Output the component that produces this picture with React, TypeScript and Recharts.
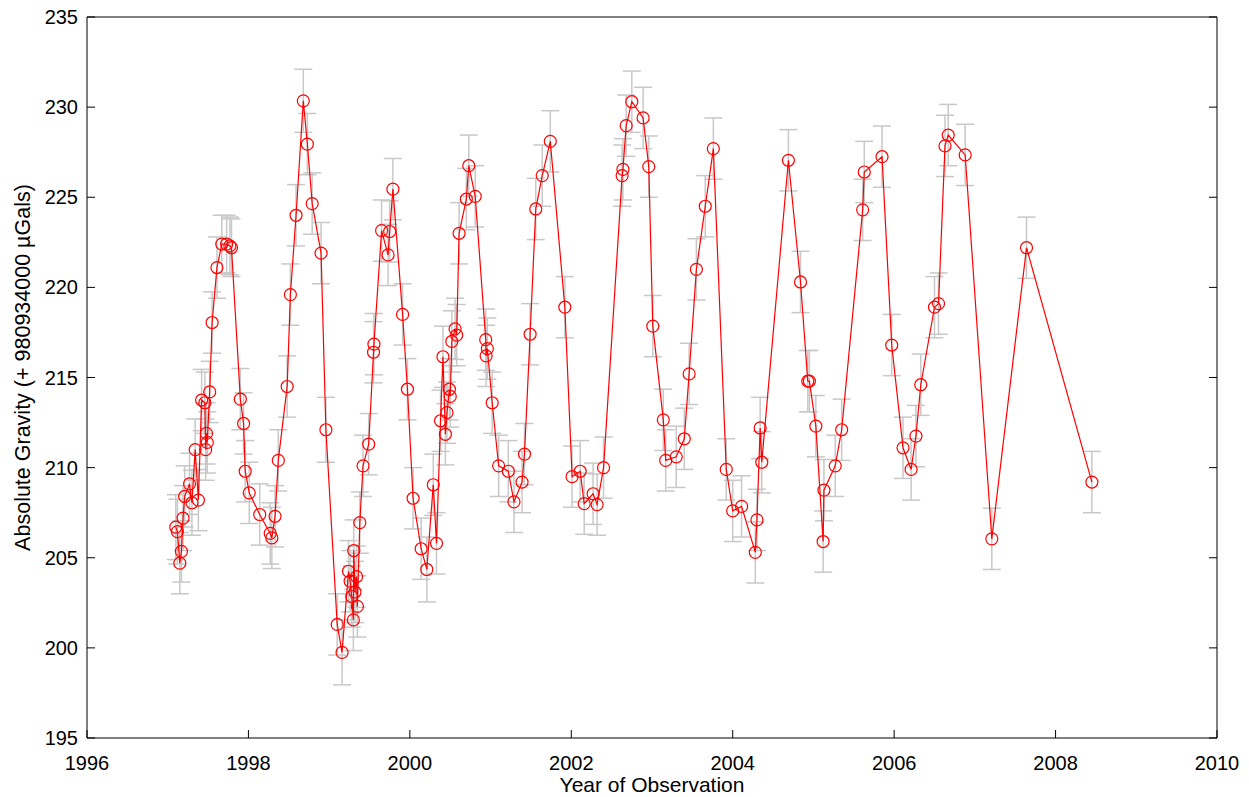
import { ErrorBar, Line, LineChart, XAxis, YAxis } from 'recharts'

// observation epochs (decimal year)
const YEARS = [
  1997.10, 1997.12, 1997.15, 1997.17, 1997.19, 1997.21, 1997.27, 1997.30, 1997.34, 1997.38,
  1997.42, 1997.46, 1997.47, 1997.48, 1997.49, 1997.52, 1997.55, 1997.61, 1997.67, 1997.73,
  1997.77, 1997.79, 1997.90, 1997.94, 1997.96,
  1998.01, 1998.14, 1998.27, 1998.29, 1998.33, 1998.37, 1998.48, 1998.52, 1998.59, 1998.68,
  1998.73, 1998.79, 1998.90, 1998.96,
  1999.10, 1999.16, 1999.24, 1999.26, 1999.28, 1999.30, 1999.305, 1999.32, 1999.34, 1999.35,
  1999.38, 1999.42, 1999.49, 1999.55, 1999.555, 1999.65, 1999.73, 1999.75, 1999.79, 1999.91,
  1999.97,
  2000.04, 2000.14, 2000.21, 2000.29, 2000.33, 2000.38, 2000.41, 2000.44, 2000.46, 2000.49,
  2000.50, 2000.52, 2000.56, 2000.58, 2000.61, 2000.70, 2000.73, 2000.81, 2000.94, 2000.945,
  2000.96,
  2001.02, 2001.10, 2001.22, 2001.29, 2001.39, 2001.42, 2001.49, 2001.56, 2001.64, 2001.74,
  2001.92,
  2002.01, 2002.11, 2002.16, 2002.27, 2002.32, 2002.40, 2002.63, 2002.64, 2002.68, 2002.75,
  2002.89, 2002.96,
  2003.01, 2003.14, 2003.17, 2003.30, 2003.40, 2003.46, 2003.55, 2003.66, 2003.76, 2003.92,
  2004.00, 2004.11, 2004.28, 2004.30, 2004.34, 2004.36, 2004.69, 2004.84, 2004.93, 2004.95,
  2005.03, 2005.12, 2005.13, 2005.27, 2005.35, 2005.61, 2005.63, 2005.85, 2005.97,
  2006.11, 2006.21, 2006.27, 2006.33, 2006.50, 2006.55, 2006.63, 2006.67, 2006.88,
  2007.21, 2007.64, 2008.45,
]

// gravity, µGal above 980934000
const GRAVITY = [
  206.7, 206.45, 204.7, 205.35, 207.2, 208.4, 209.1, 208.05, 211.0, 208.2,
  213.75, 213.6, 211.0, 211.9, 211.4, 214.2, 218.05, 221.1, 222.4, 222.4,
  222.3, 222.2, 213.8, 212.45, 209.8,
  208.6, 207.4, 206.35, 206.1, 207.3, 210.4, 214.5, 219.6, 224.0, 230.35,
  227.95, 224.65, 221.9, 212.1,
  201.3, 199.75, 204.25, 203.7, 202.85, 201.55, 205.4, 203.1, 203.95, 202.3,
  206.95, 210.1, 211.3, 216.4, 216.85, 223.15, 221.8, 223.1, 225.45, 218.5,
  214.35,
  208.3, 205.5, 204.35, 209.05, 205.8, 212.6, 216.15, 211.85, 213.05, 214.35,
  213.95, 217.0, 217.7, 217.35, 223.0, 224.9, 226.75, 225.05, 217.1, 216.2,
  216.6,
  213.6, 210.1, 209.8, 208.1, 209.2, 210.75, 217.4, 224.35, 226.2, 228.1,
  218.9,
  209.5, 209.8, 208.0, 208.55, 207.95, 210.0, 226.2, 226.55, 228.97, 230.3,
  229.4, 226.7,
  217.85, 212.65, 210.4, 210.6, 211.6, 215.2, 221.0, 224.5, 227.7, 209.9,
  207.6, 207.85, 205.3, 207.1, 212.2, 210.3, 227.05, 220.3, 214.8, 214.8,
  212.3, 205.9, 208.75, 210.1, 212.1, 224.3, 226.4, 227.25, 216.8,
  211.1, 209.9, 211.75, 214.6, 218.9, 219.1, 227.85, 228.45, 227.35,
  206.05, 222.2, 209.2,
]

// 1-sigma uncertainty, µGal
const ERROR = [
  1.8, 1.8, 1.7, 1.7, 1.8, 1.7, 1.7, 1.8, 1.7, 1.7,
  1.7, 1.7, 1.7, 1.7, 1.7, 1.7, 1.7, 1.7, 1.6, 1.6,
  1.6, 1.6, 1.7, 1.7, 1.7,
  1.7, 1.7, 1.7, 1.7, 1.7, 1.7, 1.7, 1.7, 1.7, 1.75,
  1.7, 1.7, 1.7, 1.8,
  1.7, 1.8, 1.7, 1.7, 1.7, 1.7, 1.7, 1.7, 1.7, 1.7,
  1.7, 1.7, 1.7, 1.7, 1.7, 1.7, 1.7, 1.7, 1.7, 1.7,
  1.7,
  1.7, 1.7, 1.8, 1.7, 1.7, 1.7, 1.7, 1.7, 1.7, 1.7,
  1.7, 1.7, 1.7, 1.7, 1.7, 1.7, 1.7, 1.7, 1.7, 1.7,
  1.7,
  1.7, 1.7, 1.7, 1.7, 1.7, 1.7, 1.7, 1.7, 1.7, 1.7,
  1.7,
  1.7, 1.7, 1.7, 1.7, 1.7, 1.7, 1.7, 1.7, 1.7, 1.7,
  1.7, 1.7,
  1.7, 1.7, 1.7, 1.7, 1.7, 1.7, 1.7, 1.7, 1.7, 1.7,
  1.7, 1.7, 1.7, 1.7, 1.7, 1.7, 1.7, 1.7, 1.7, 1.7,
  1.7, 1.7, 1.7, 1.7, 1.7, 1.7, 1.7, 1.7, 1.7,
  1.7, 1.7, 1.7, 1.7, 1.7, 1.7, 1.7, 1.7, 1.7,
  1.7, 1.7, 1.7,
]

const X_TICKS = [1996, 1998, 2000, 2002, 2004, 2006, 2008, 2010]
const Y_TICKS = [195, 200, 205, 210, 215, 220, 225, 230, 235]

const data = YEARS.map((year, i) => ({ year, g: GRAVITY[i], err: ERROR[i] }))

const FONT = '"Liberation Sans", Arial, sans-serif'
const tickStyle = { fill: '#000', fontSize: 20, fontFamily: FONT }
const blank = () => ''

export default function App() {
  return (
    <div style={{ position: 'absolute', left: 0, top: 0, width: 1249, height: 797, background: '#fff' }}>
      <LineChart width={1249} height={797} data={data} margin={{ top: 0, right: 0, bottom: 0, left: 0 }}>
        <XAxis
          dataKey="year"
          type="number"
          domain={[1996, 2010]}
          ticks={X_TICKS}
          interval={0}
          allowDataOverflow
          height={59}
          stroke="#000"
          tickSize={-8}
          tickMargin={26}
          tick={tickStyle}
          label={{
            value: 'Year of Observation',
            position: 'insideBottom',
            offset: 5,
            style: { fill: '#000', fontSize: 21, fontFamily: FONT },
          }}
        />
        <XAxis
          xAxisId="top"
          orientation="top"
          type="number"
          domain={[1996, 2010]}
          ticks={X_TICKS}
          interval={0}
          allowDataOverflow
          height={17}
          stroke="#000"
          tickSize={-8}
          tickFormatter={blank}
        />
        <YAxis
          type="number"
          domain={[195, 235]}
          ticks={Y_TICKS}
          interval={0}
          allowDataOverflow
          width={87}
          stroke="#000"
          tickSize={-8}
          tickMargin={17}
          tick={tickStyle}
          label={{
            value: 'Absolute Gravity (+ 980934000 µGals)',
            angle: -90,
            position: 'insideLeft',
            dx: 17,
            dy: -10,
            style: { fill: '#000', fontSize: 21.5, fontFamily: FONT, textAnchor: 'middle' },
          }}
        />
        <YAxis
          yAxisId="right"
          orientation="right"
          type="number"
          domain={[195, 235]}
          ticks={Y_TICKS}
          interval={0}
          allowDataOverflow
          width={32}
          stroke="#000"
          tickSize={-8}
          tickFormatter={blank}
        />
        <Line
          dataKey="g"
          stroke="none"
          dot={false}
          activeDot={false}
          isAnimationActive={false}
        >
          <ErrorBar dataKey="err" direction="y" width={9} stroke="#c8c8c8" strokeWidth={1.5} />
        </Line>
        <Line
          type="linear"
          dataKey="g"
          stroke="#ff0000"
          strokeWidth={1.2}
          dot={{ r: 6, stroke: '#ff0000', strokeWidth: 1.2, fill: 'none' }}
          activeDot={false}
          isAnimationActive={false}
        />
      </LineChart>
    </div>
  )
}
